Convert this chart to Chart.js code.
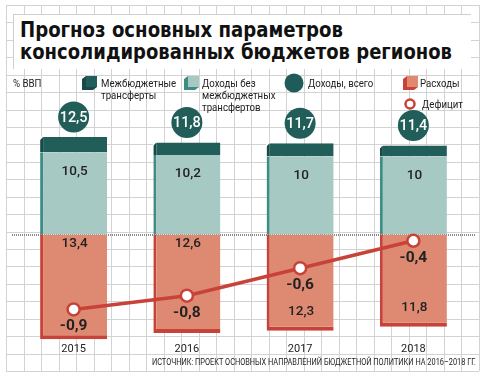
<!DOCTYPE html>
<html><head><meta charset="utf-8">
<script src="https://cdn.jsdelivr.net/npm/chart.js@4/dist/chart.umd.min.js"></script>
<style>
html,body{margin:0;padding:0;background:#fff;}
#wrap{position:relative;width:487px;height:380px;overflow:hidden;}
#c{position:absolute;left:0;top:0;}
.t{position:absolute;white-space:nowrap;color:#1a1a1a;}
#tbox{position:absolute;left:13px;top:14px;width:458px;height:55px;background:#fff;border-left:1px solid #cfcfcf;border-top:1px solid #cfcfcf;box-sizing:border-box;}
.tl{font-family:"DejaVu Sans",sans-serif;font-weight:bold;font-size:22px;line-height:22px;color:#111;transform-origin:0 50%;}
.lg{font-family:Roboto,sans-serif;font-size:11.5px;line-height:12px;transform:scaleX(0.84);transform-origin:0 50%;color:#222;}
#src{font-family:Roboto,sans-serif;font-size:8.6px;line-height:10px;color:#222;transform-origin:100% 50%;}
svg.ic{position:absolute;}
</style></head>
<body>
<div id="wrap">
<canvas id="c" width="487" height="380"></canvas>
<div id="tbox"></div>
<div class="t tl" data-w="323" style="left:20px;top:19px;">Прогноз основных параметров</div>
<div class="t tl" data-w="432" style="left:20px;top:41px;">консолидированных бюджетов регионов</div>
<div class="t lg" style="left:13px;top:77px;">% ВВП</div>
<svg class="ic" style="left:82px;top:76px" width="16" height="15"><polygon points="0,3 4,0 4,11 15,11 11,14 0,14" fill="#174a47"/><rect x="4" y="0" width="11" height="11" fill="#215e5a"/></svg>
<div class="t lg" style="left:101px;top:77px;">Межбюджетные<br>трансферты</div>
<svg class="ic" style="left:184px;top:76px" width="16" height="15"><polygon points="0,3 4,0 4,11 15,11 11,14 0,14" fill="#3f8c84"/><rect x="4" y="0" width="11" height="11" fill="#a7c9c4"/></svg>
<div class="t lg" style="left:202px;top:77px;">Доходы без<br>межбюджетных<br>трансфертов</div>
<svg class="ic" style="left:284px;top:73px" width="20" height="20"><circle cx="10" cy="10" r="9.5" fill="#1f5b58"/></svg>
<div class="t lg" style="left:308px;top:77px;">Доходы, всего</div>
<svg class="ic" style="left:403px;top:76px" width="16" height="15"><polygon points="0,3 4,0 4,11 15,11 11,14 0,14" fill="#c9423a"/><rect x="4" y="0" width="11" height="11" fill="#e0896f"/></svg>
<div class="t lg" style="left:420px;top:77px;">Расходы</div>
<svg class="ic" style="left:403px;top:97px" width="14" height="14"><circle cx="7" cy="7" r="4.5" fill="#fff" stroke="#c9423a" stroke-width="2.5"/></svg>
<div class="t lg" style="left:422px;top:98px;">Дефицит</div>
<div id="src" class="t" data-w="324" style="right:11px;top:357px;">ИСТОЧНИК: ПРОЕКТ ОСНОВНЫХ НАПРАВЛЕНИЙ БЮДЖЕТНОЙ ПОЛИТИКИ НА 2016–2018 ГГ.</div>
</div>
<script>
const categories = ['2015', '2016', '2017', '2018'];
const totalIncome = [12.5, 11.8, 11.7, 11.4];
const ownIncome = [10.5, 10.2, 10, 10];
const transfers = [2.0, 1.6, 1.7, 1.4];
const expenses = [13.4, 12.6, 12.3, 11.8];
const deficit = [-0.9, -0.8, -0.6, -0.4];

document.querySelectorAll('[data-w]').forEach(el => {
  const w = el.getBoundingClientRect().width;
  el.style.transform = 'scaleX(' + (parseFloat(el.dataset.w) / w).toFixed(4) + ')';
});

const C = {
  dark: '#215e5a', darkEdge: '#174a47',
  light: '#a7c9c4', lightEdge: '#3f8c84',
  red: '#de8a72', redEdge: '#c9423a',
  line: '#c9423a', grid: '#d3d3d3'
};
const fmt = v => String(v).replace('.', ',');

const bgPlugin = {
  id: 'bg',
  beforeDraw(chart) {
    const ctx = chart.ctx;
    ctx.save();
    ctx.fillStyle = '#fff';
    ctx.fillRect(0, 0, chart.width, chart.height);
    ctx.strokeStyle = C.grid; ctx.lineWidth = 1;
    const x0 = 6, x1 = 479, y0 = 5, y1 = 371, nx = 27, ny = 21;
    ctx.beginPath();
    for (let i = 0; i <= nx; i++) { const x = Math.round(x0 + (x1 - x0) * i / nx) + 0.5; ctx.moveTo(x, y0); ctx.lineTo(x, y1); }
    for (let j = 0; j <= ny; j++) { const y = Math.round(y0 + (y1 - y0) * j / ny) + 0.5; ctx.moveTo(x0, y); ctx.lineTo(x1, y); }
    ctx.stroke();
    ctx.restore();
  },
  beforeDatasetsDraw(chart) {
    const ctx = chart.ctx, y = Math.round(chart.scales.y.getPixelForValue(0));
    ctx.save();
    ctx.strokeStyle = '#8a8a8a'; ctx.lineWidth = 2; ctx.setLineDash([1, 1]);
    ctx.beginPath(); ctx.moveTo(12, y); ctx.lineTo(475, y); ctx.stroke();
    ctx.restore();
  }
};

const labelPlugin = {
  id: 'labels',
  afterDatasetsDraw(chart) {
    const ctx = chart.ctx, ys = chart.scales.y;
    const metaOwn = chart.getDatasetMeta(0), metaTr = chart.getDatasetMeta(1), metaDef = chart.getDatasetMeta(3);
    ctx.save();
    ctx.textAlign = 'center'; ctx.textBaseline = 'middle';
    categories.forEach((cat, i) => {
      const x = metaOwn.data[i].x;
      // chamfer on the top-left corner of the transfers block
      const tb = metaTr.data[i];
      ctx.fillStyle = '#ffffff';
      ctx.beginPath(); ctx.moveTo(tb.x - tb.width / 2 - 0.5, tb.y - 0.5); ctx.lineTo(tb.x - tb.width / 2 + 3.5, tb.y - 0.5); ctx.lineTo(tb.x - tb.width / 2 - 0.5, tb.y + 3.5); ctx.closePath(); ctx.fill();
      // total circle
      const topY = ys.getPixelForValue(totalIncome[i]);
      const cy = topY - 20;
      ctx.fillStyle = C.dark;
      ctx.beginPath(); ctx.arc(x, cy, 15.5, 0, Math.PI * 2); ctx.fill();
      ctx.fillStyle = '#fff'; ctx.font = '500 14.5px Roboto';
      ctx.fillText(fmt(totalIncome[i]), x, cy + 1);
      // own income label
      ctx.fillStyle = '#222'; ctx.font = '500 13.5px Roboto';
      ctx.fillText(fmt(ownIncome[i]), x + 1, ys.getPixelForValue(ownIncome[i]) + 19);
      // expenses label
      const ptY = metaDef.data[i].y;
      const zeroY = ys.getPixelForValue(0), botY = ys.getPixelForValue(-expenses[i]);
      const ey = ptY > (zeroY + botY) / 2 ? zeroY + 9 : botY - 19;
      ctx.fillText(fmt(expenses[i]), x + 1, ey);
      // deficit label
      ctx.font = 'bold 15.5px Roboto';
      ctx.fillText(fmt(deficit[i]), metaDef.data[i].x, ptY + 17);
    });
    ctx.restore();
  }
};

new Chart(document.getElementById('c'), {
  type: 'bar',
  data: {
    labels: categories,
    datasets: [
      { label: 'Доходы без межбюджетных трансфертов', data: ownIncome, backgroundColor: C.light,
        borderColor: C.lightEdge, borderWidth: { left: 3, top: 0, right: 0, bottom: 0 }, borderSkipped: false, stack: 's', order: 1 },
      { label: 'Межбюджетные трансферты', data: transfers, backgroundColor: C.dark,
        borderColor: C.darkEdge, borderWidth: { left: 3, top: 0, right: 0, bottom: 0 }, borderSkipped: false, stack: 's', order: 1 },
      { label: 'Расходы', data: expenses.map(v => -v), backgroundColor: C.red,
        borderColor: C.redEdge, borderWidth: { left: 3, top: 0, right: 0, bottom: 4 }, borderSkipped: false, stack: 's', order: 1 },
      { type: 'line', label: 'Дефицит', data: deficit, yAxisID: 'y2', order: 0,
        borderColor: C.line, borderWidth: 3.5, pointRadius: 6, pointBorderWidth: 2.5,
        pointBackgroundColor: '#fff', pointBorderColor: C.line, tension: 0 }
    ]
  },
  options: {
    responsive: false, animation: false,
    layout: { padding: { left: 17, right: 17, top: 94, bottom: 23 } },
    plugins: { legend: { display: false }, tooltip: { enabled: false } },
    datasets: { bar: { barPercentage: 0.592, categoryPercentage: 1 } },
    scales: {
      x: { stacked: true, grid: { display: false, drawTicks: false }, border: { display: false },
           ticks: { padding: 1, color: '#222', font: { family: 'Roboto', size: 11 } } },
      y: { stacked: true, display: false, min: -13.73, max: 18 },
      y2: { display: false, min: -1.136, max: 0.669 }
    }
  },
  plugins: [bgPlugin, labelPlugin]
});
</script>
</body></html>
